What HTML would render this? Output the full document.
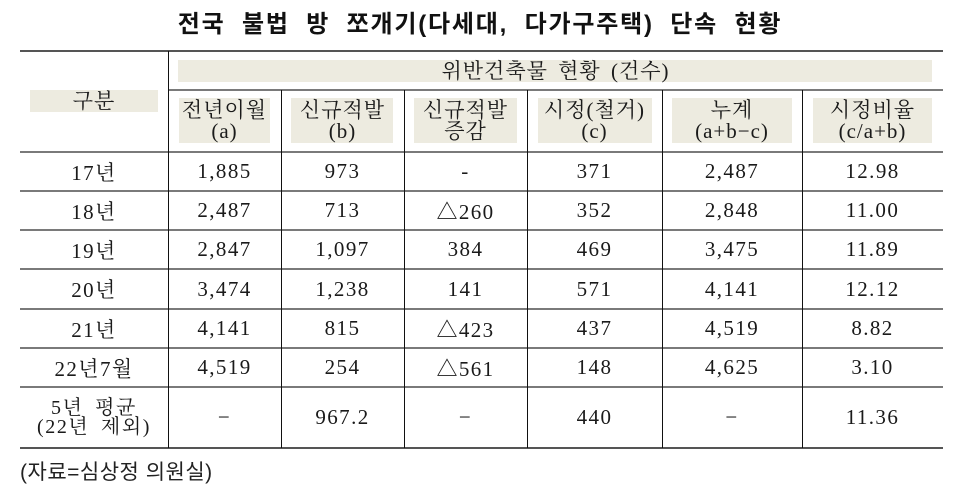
<!DOCTYPE html>
<html><head><meta charset="utf-8">
<style>
*{margin:0;padding:0;box-sizing:border-box}
body{width:960px;height:488px;background:#fff;position:relative;overflow:hidden;color:#1a1a1a}
.t{position:absolute;display:flex;align-items:center;justify-content:center;text-align:center;white-space:nowrap}
.s{font-family:"Liberation Serif","Noto Serif CJK KR","Noto Serif CJK SC",serif;font-size:21px;letter-spacing:1.4px}
.h{position:absolute;background:#7a7a7a;height:2px}
.v{position:absolute;background:#111;width:1px}
.bx{position:absolute;background:#edebe0}
.hd{font-family:"Liberation Serif","Noto Serif CJK KR","Noto Serif CJK SC",serif;font-size:21px;line-height:21px;letter-spacing:1px;flex-direction:column}
</style></head><body>

<div class="t" style="left:0;width:960px;top:6px;height:30px;font-family:'Liberation Sans','Noto Sans CJK KR',sans-serif;font-weight:600;font-size:24px;letter-spacing:1.8px;word-spacing:8px;color:#111">전국 불법 방 쪼개기(다세대, 다가구주택) 단속 현황</div>

<!-- shaded boxes -->
<div class="bx" style="left:30px;top:90px;width:128px;height:22px"></div>
<div class="bx" style="left:178px;top:60px;width:754px;height:22px"></div>
<div class="bx" style="left:179px;top:98px;width:91px;height:45px"></div>
<div class="bx" style="left:291px;top:98px;width:102px;height:45px"></div>
<div class="bx" style="left:414px;top:98px;width:103px;height:45px"></div>
<div class="bx" style="left:538px;top:98px;width:114px;height:45px"></div>
<div class="bx" style="left:672px;top:98px;width:120px;height:45px"></div>
<div class="bx" style="left:813px;top:98px;width:119px;height:45px"></div>

<!-- lines -->
<div class="h" style="left:20px;width:923px;top:50px;height:2px;background:#555"></div>
<div class="h" style="left:168px;width:775px;top:89px"></div>
<div class="h" style="left:20px;width:923px;top:151px"></div>
<div class="h" style="left:20px;width:923px;top:190px"></div>
<div class="h" style="left:20px;width:923px;top:229px"></div>
<div class="h" style="left:20px;width:923px;top:268px"></div>
<div class="h" style="left:20px;width:923px;top:308px"></div>
<div class="h" style="left:20px;width:923px;top:347px"></div>
<div class="h" style="left:20px;width:923px;top:386px"></div>
<div class="h" style="left:20px;width:923px;top:447px;background:#555"></div>

<div class="v" style="left:168px;top:51px;height:397px"></div>
<div class="v" style="left:281px;top:90px;height:358px"></div>
<div class="v" style="left:404px;top:90px;height:358px"></div>
<div class="v" style="left:527px;top:90px;height:358px"></div>
<div class="v" style="left:662px;top:90px;height:358px"></div>
<div class="v" style="left:802px;top:90px;height:358px"></div>

<!-- headers -->
<div class="t hd" style="left:20px;width:148px;top:89px;height:24px">구분</div>
<div class="t hd" style="left:168px;width:775px;top:60px;height:22px;word-spacing:4px">위반건축물 현황 (건수)</div>
<div class="t hd" style="left:168px;width:113px;top:98px;height:45px"><div>전년이월</div><div>(a)</div></div>
<div class="t hd" style="left:281px;width:123px;top:98px;height:45px"><div>신규적발</div><div>(b)</div></div>
<div class="t hd" style="left:404px;width:123px;top:98px;height:45px"><div>신규적발</div><div>증감</div></div>
<div class="t hd" style="left:527px;width:135px;top:98px;height:45px"><div>시정(철거)</div><div>(c)</div></div>
<div class="t hd" style="left:662px;width:140px;top:98px;height:45px"><div>누계</div><div>(a+b−c)</div></div>
<div class="t hd" style="left:802px;width:141px;top:98px;height:45px"><div>시정비율</div><div>(c/a+b)</div></div>

<!-- rows -->
<div class="t s" style="left:20px;width:148px;top:152px;height:39px">17년</div>
<div class="t s" style="left:168px;width:113px;top:152px;height:39px">1,885</div>
<div class="t s" style="left:281px;width:123px;top:152px;height:39px">973</div>
<div class="t s" style="left:404px;width:123px;top:152px;height:39px">-</div>
<div class="t s" style="left:527px;width:135px;top:152px;height:39px">371</div>
<div class="t s" style="left:662px;width:140px;top:152px;height:39px">2,487</div>
<div class="t s" style="left:802px;width:141px;top:152px;height:39px">12.98</div>

<div class="t s" style="left:20px;width:148px;top:191px;height:39px">18년</div>
<div class="t s" style="left:168px;width:113px;top:191px;height:39px">2,487</div>
<div class="t s" style="left:281px;width:123px;top:191px;height:39px">713</div>
<div class="t s" style="left:404px;width:123px;top:191px;height:39px">△260</div>
<div class="t s" style="left:527px;width:135px;top:191px;height:39px">352</div>
<div class="t s" style="left:662px;width:140px;top:191px;height:39px">2,848</div>
<div class="t s" style="left:802px;width:141px;top:191px;height:39px">11.00</div>

<div class="t s" style="left:20px;width:148px;top:230px;height:39px">19년</div>
<div class="t s" style="left:168px;width:113px;top:230px;height:39px">2,847</div>
<div class="t s" style="left:281px;width:123px;top:230px;height:39px">1,097</div>
<div class="t s" style="left:404px;width:123px;top:230px;height:39px">384</div>
<div class="t s" style="left:527px;width:135px;top:230px;height:39px">469</div>
<div class="t s" style="left:662px;width:140px;top:230px;height:39px">3,475</div>
<div class="t s" style="left:802px;width:141px;top:230px;height:39px">11.89</div>

<div class="t s" style="left:20px;width:148px;top:269px;height:40px">20년</div>
<div class="t s" style="left:168px;width:113px;top:269px;height:40px">3,474</div>
<div class="t s" style="left:281px;width:123px;top:269px;height:40px">1,238</div>
<div class="t s" style="left:404px;width:123px;top:269px;height:40px">141</div>
<div class="t s" style="left:527px;width:135px;top:269px;height:40px">571</div>
<div class="t s" style="left:662px;width:140px;top:269px;height:40px">4,141</div>
<div class="t s" style="left:802px;width:141px;top:269px;height:40px">12.12</div>

<div class="t s" style="left:20px;width:148px;top:309px;height:39px">21년</div>
<div class="t s" style="left:168px;width:113px;top:309px;height:39px">4,141</div>
<div class="t s" style="left:281px;width:123px;top:309px;height:39px">815</div>
<div class="t s" style="left:404px;width:123px;top:309px;height:39px">△423</div>
<div class="t s" style="left:527px;width:135px;top:309px;height:39px">437</div>
<div class="t s" style="left:662px;width:140px;top:309px;height:39px">4,519</div>
<div class="t s" style="left:802px;width:141px;top:309px;height:39px">8.82</div>

<div class="t s" style="left:20px;width:148px;top:348px;height:39px">22년7월</div>
<div class="t s" style="left:168px;width:113px;top:348px;height:39px">4,519</div>
<div class="t s" style="left:281px;width:123px;top:348px;height:39px">254</div>
<div class="t s" style="left:404px;width:123px;top:348px;height:39px">△561</div>
<div class="t s" style="left:527px;width:135px;top:348px;height:39px">148</div>
<div class="t s" style="left:662px;width:140px;top:348px;height:39px">4,625</div>
<div class="t s" style="left:802px;width:141px;top:348px;height:39px">3.10</div>

<div class="t s" style="left:20px;width:148px;top:387px;height:61px;flex-direction:column;font-size:20px;line-height:19px;letter-spacing:1.6px;word-spacing:5px"><div>5년 평균</div><div>(22년 제외)</div></div>
<div class="t s" style="left:168px;width:113px;top:387px;height:61px">−</div>
<div class="t s" style="left:281px;width:123px;top:387px;height:61px">967.2</div>
<div class="t s" style="left:404px;width:123px;top:387px;height:61px">−</div>
<div class="t s" style="left:527px;width:135px;top:387px;height:61px">440</div>
<div class="t s" style="left:662px;width:140px;top:387px;height:61px">−</div>
<div class="t s" style="left:802px;width:141px;top:387px;height:61px">11.36</div>

<div style="position:absolute;left:20px;top:460px;font-family:'Liberation Sans','Noto Sans CJK KR',sans-serif;font-size:21px;letter-spacing:0.5px;line-height:26px;white-space:nowrap;color:#222">(자료=심상정 의원실)</div>

</body></html>
